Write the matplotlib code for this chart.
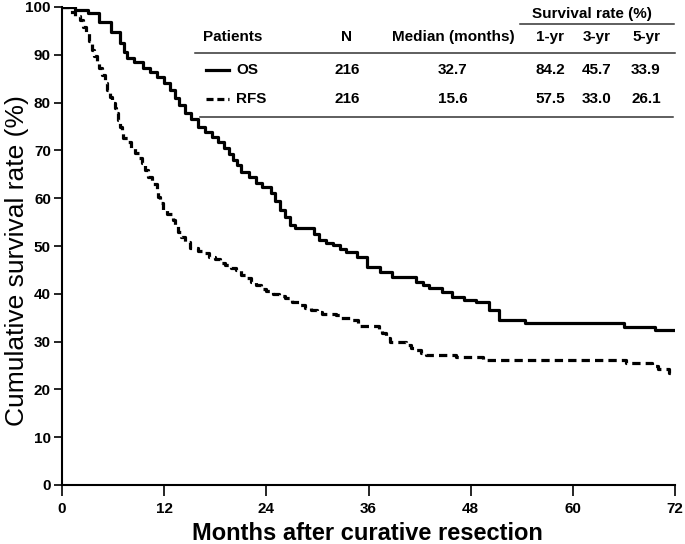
import matplotlib.pyplot as plt
from matplotlib.lines import Line2D

# Kaplan-Meier step data
os_time = [0, 1.5, 3.0, 4.3, 5.8, 6.8, 7.3, 7.6, 8.5, 9.5, 10.3, 11.2, 12.0, 12.7,
           13.3, 13.8, 14.5, 15.2, 16.0, 16.8, 17.6, 18.3, 19.0, 19.6, 20.1, 20.6,
           21.0, 22.0, 22.8, 23.5, 24.5, 25.0, 25.6, 26.2, 26.8, 27.4, 29.6, 30.2,
           31.0, 31.8, 32.6, 33.4, 34.6, 35.8, 37.3, 38.8, 41.6, 42.4, 43.1, 44.6,
           45.8, 47.2, 48.6, 50.2, 51.3, 54.4, 66.0, 69.7, 72.0]
os_surv = [100, 99.4, 98.7, 96.9, 94.8, 92.5, 90.5, 89.3, 88.5, 87.3, 86.4, 85.3, 84.2, 82.6,
           81.0, 79.5, 77.8, 76.5, 74.9, 73.8, 72.8, 71.8, 70.5, 69.3, 68.0, 67.0,
           65.5, 64.4, 63.2, 62.3, 61.1, 59.5, 57.5, 56.0, 54.4, 53.8, 52.5, 51.3,
           50.6, 50.2, 49.4, 48.7, 47.7, 45.6, 44.6, 43.5, 42.4, 41.8, 41.2, 40.3,
           39.3, 38.8, 38.3, 36.6, 34.5, 33.9, 33.1, 32.4, 32.4]

rfs_time = [0, 0.8, 1.5, 2.1, 2.5, 2.8, 3.2, 3.5, 3.8, 4.1, 4.4, 4.7, 5.0, 5.3, 5.6,
            5.9, 6.2, 6.4, 6.6, 6.8, 7.0, 7.2, 7.7, 8.1, 8.6, 9.0, 9.4, 9.8, 10.1,
            10.6, 11.1, 11.3, 11.5, 11.9, 12.3, 13.0, 13.3, 13.6, 14.0, 14.4, 15.0,
            16.0, 16.6, 17.3, 18.0, 18.6, 19.2, 19.8, 20.4, 21.0, 21.6, 22.2, 22.8,
            23.4, 24.0, 24.8, 25.5, 26.2, 27.0, 27.9, 28.6, 29.3, 29.9, 30.5, 32.2,
            32.8, 33.8, 34.8, 37.2, 37.6, 38.0, 38.5, 40.4, 41.0, 41.6, 42.2, 42.8,
            46.3, 49.4, 66.2, 69.3, 70.0, 71.3, 72.0]
rfs_surv = [100, 99.0, 98.2, 97.3, 95.8, 94.6, 92.8, 91.0, 89.8, 88.5, 87.2, 85.8, 84.2,
            82.6, 81.2, 79.9, 78.8, 77.8, 76.4, 74.9, 73.7, 72.6, 71.8, 70.6, 69.5,
            68.4, 67.4, 65.9, 64.4, 63.0, 61.7, 60.3, 59.0, 57.5, 56.6, 55.4, 54.1,
            52.9, 51.8, 50.8, 49.6, 49.0, 48.5, 47.8, 47.3, 46.5, 46.0, 45.4, 45.0,
            44.0, 43.3, 42.5, 41.8, 41.0, 40.6, 40.0, 39.5, 39.1, 38.3, 37.7, 37.0,
            36.6, 36.2, 35.8, 35.6, 35.0, 34.5, 33.3, 32.5, 31.8, 30.8, 29.9, 29.3,
            28.7, 28.2, 27.7, 27.2, 26.8, 26.1, 25.5, 24.8, 24.2, 23.5, 23.5]

# summary table
col_heads = ["N", "Median (months)", "1-yr", "3-yr", "5-yr"]
row_names = ["OS", "RFS"]
row_n = ["216", "216"]
row_median = ["32.7", "15.6"]
row_rates = [["84.2", "45.7", "33.9"], ["57.5", "33.0", "26.1"]]

plt.rcParams['font.family'] = ['Liberation Sans', 'DejaVu Sans']

fig = plt.figure(figsize=(6.85, 5.44), dpi=100)
ax = fig.add_axes([62 / 685, 1 - 485 / 544, 613 / 685, 478 / 544])

lw = 2.3
ax.plot(os_time, os_surv, drawstyle='steps-post', color='black', lw=lw,
        solid_capstyle='butt')
ax.plot(rfs_time, rfs_surv, drawstyle='steps-post', color='black', lw=lw,
        dashes=(2.6, 1.6))

ax.set_xlim(0, 72)
ax.set_ylim(0, 100)
ax.set_xticks(range(0, 73, 12))
ax.set_yticks(range(0, 101, 10))
for s in ['top', 'right']:
    ax.spines[s].set_visible(False)
for s in ['left', 'bottom']:
    ax.spines[s].set_linewidth(1.5)
ax.tick_params(axis='y', width=1.2, length=6, labelsize=11, pad=2)
ax.tick_params(axis='x', width=1.2, length=8, labelsize=11, pad=4)
for lab in ax.get_yticklabels() + ax.get_xticklabels():
    lab.set_fontweight('bold')

ax.set_ylabel("Cumulative survival rate (%)", fontsize=19)
ax.yaxis.set_label_coords(-0.054, 0.47)
ax.set_xlabel("Months after curative resection", fontsize=17, fontweight='bold')
ax.xaxis.label.set_va('baseline')
ax.xaxis.set_label_coords(0.4976, -0.115)

# table drawn in figure pixel coords
def px(x, y):
    return x / 685, 1 - y / 544

tfs = 11
tw = 'bold'
col_x = [347, 453, 550, 597, 646]
fig.text(*px(592, 14), "Survival rate (%)", ha='center', va='center', fontsize=tfs, fontweight=tw)
fig.add_artist(Line2D([520 / 685, 674 / 685], [1 - 24 / 544] * 2, color='#333333', lw=1.1))
fig.text(*px(203, 37), "Patients", ha='left', va='center', fontsize=tfs, fontweight=tw)
for x, h in zip(col_x, col_heads):
    fig.text(*px(x, 37), h, ha='center', va='center', fontsize=tfs, fontweight=tw)
fig.add_artist(Line2D([195 / 685, 675 / 685], [1 - 53 / 544] * 2, color='#333333', lw=1.1))
row_y = [70, 99]
styles = [dict(), dict(dashes=(2.2, 1.2))]
for i in range(2):
    y = row_y[i]
    fig.add_artist(Line2D([206 / 685, 229 / 685], [1 - y / 544] * 2, color='black', lw=2.3,
                          **styles[i]))
    fig.text(*px(236, y), row_names[i], ha='left', va='center', fontsize=tfs, fontweight=tw)
    vals = [row_n[i], row_median[i]] + row_rates[i]
    for x, v in zip(col_x, vals):
        fig.text(*px(x, y), v, ha='center', va='center', fontsize=tfs, fontweight=tw)
fig.add_artist(Line2D([200 / 685, 673 / 685], [1 - 117 / 544] * 2, color='#333333', lw=1.1))

fig.savefig("out.png", dpi=100)
